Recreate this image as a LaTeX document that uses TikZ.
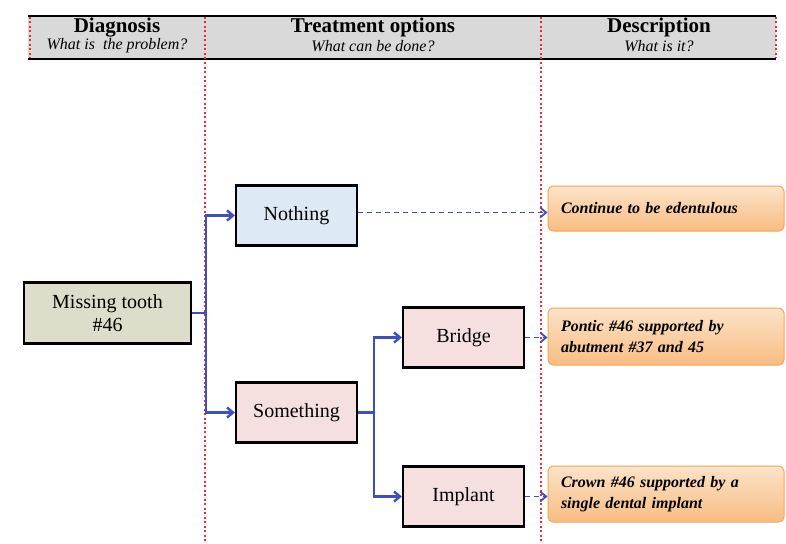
\documentclass[tikz,border=0pt]{standalone}
\usepackage{fontspec}
\setmainfont{Liberation Serif}
\usetikzlibrary{arrows.meta,calc}
\definecolor{hdrgray}{HTML}{D9D9D9}
\definecolor{olivebox}{HTML}{DEDDCB}
\definecolor{bluebox}{HTML}{DDEAF6}
\definecolor{pinkbox}{HTML}{F5DFDF}
\definecolor{linkblue}{HTML}{3E4FBF}
\definecolor{divred}{HTML}{E83030}
\definecolor{orbord}{HTML}{F2A55A}
\definecolor{ortop}{HTML}{FCE3C8}
\definecolor{orbot}{HTML}{F8BD82}
\tikzset{
  x=1pt,y=-1pt,
  optbox/.style={draw=black,line width=2.2pt,minimum width=121pt,minimum height=60pt,align=center,inner sep=2pt,font=\fontsize{20}{23}\selectfont},
  descbox/.style={draw=orbord,line width=1pt,rounded corners=5pt,top color=ortop,bottom color=orbot,minimum width=236pt,align=left,text width=210pt,inner xsep=13pt,inner ysep=5pt,font=\fontsize{16}{21}\selectfont\bfseries\itshape},
  link/.style={draw=linkblue,line width=2.4pt,-{Straight Barb[length=6pt,width=10pt]}},
  dlink/.style={draw=linkblue,line width=1.8pt,dash pattern=on 5pt off 4pt,-{Straight Barb[length=6pt,width=10pt]}},
  plain/.style={draw=linkblue,line width=2.4pt},
  divider/.style={draw=divred,line width=1.1pt,dash pattern=on 2pt off 2.5pt},
  hdtitle/.style={font=\fontsize{21}{24}\selectfont\bfseries},
  hdsub/.style={font=\fontsize{16}{18}\selectfont\itshape}
}
\begin{document}
\begin{tikzpicture}
\useasboundingbox (0,0) rectangle (786,543);
\fill[white] (0,0) rectangle (786,543);
% header
\fill[hdrgray] (28,16) rectangle (776,59);
\draw[line width=2pt] (28,16) -- (776,16);
\draw[line width=2pt] (28,59) -- (776,59);
\draw[divider] (30,17) -- (30,58);
\draw[divider] (776,17) -- (776,58);
\draw[divider] (205,17) -- (205,543);
\draw[divider] (541,17) -- (541,543);
\node[hdtitle] (h1) at (117,27.5) {Diagnosis};
\node[hdsub] (s1) at (117,46) {What is~ the problem?};
\node[hdtitle] (h2) at (373,27.5) {Treatment options};
\node[hdsub] (s2) at (373,46) {What can be done?};
\node[hdtitle] (h3) at (659,27.5) {Description};
\node[hdsub] (s3) at (659,46) {What is it?};
% nodes
\node[optbox,fill=olivebox,minimum width=167pt,minimum height=61pt] (miss) at (107.5,313) {Missing tooth\\\#46};
\node[optbox,fill=bluebox] (noth) at (296.5,215.5) {Nothing};
\node[optbox,fill=pinkbox] (some) at (296.5,412.5) {Something};
\node[optbox,fill=pinkbox] (brid) at (463.5,337.5) {Bridge};
\node[optbox,fill=pinkbox] (impl) at (463.5,496.5) {Implant};
\node[descbox,minimum height=45pt] (d1) at (666,208.5) {Continue to be edentulous};
\node[descbox,minimum height=57pt] (d2) at (666,336.5) {Pontic \#46 supported by\\abutment \#37 and 45};
\node[descbox,minimum height=56pt] (d3) at (666,494) {Crown \#46 supported by a\\single dental implant};
% connectors
\coordinate (j1) at ($(miss.east)+(14,0)$);
\coordinate (j2) at ($(some.east)+(16,0)$);
\draw[plain] (miss.east) -- (j1);
\draw[link] (j1) |- (noth.west);
\draw[link] (j1) |- (some.west);
\draw[plain] (some.east) -- (j2);
\draw[link] (j2) |- (brid.west);
\draw[link] (j2) |- (impl.west);
\draw[dlink] ($(noth.east)+(0,-3)$) -- ($(noth.east -| d1.west)+(0,-3)$);
\draw[dlink] (brid.east) -- (brid.east -| d2.west);
\draw[dlink] (impl.east) -- (impl.east -| d3.west);
\end{tikzpicture}
\end{document}
